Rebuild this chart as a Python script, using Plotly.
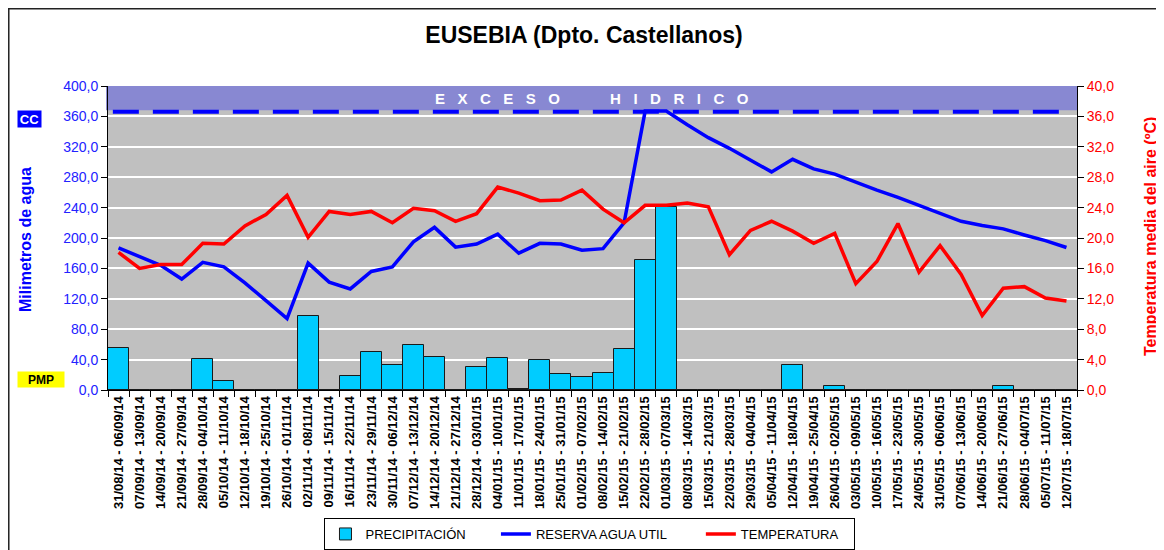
import plotly.graph_objects as go

categories = [
    "31/08/14 - 06/09/14", "07/09/14 - 13/09/14", "14/09/14 - 20/09/14", "21/09/14 - 27/09/14",
    "28/09/14 - 04/10/14", "05/10/14 - 11/10/14", "12/10/14 - 18/10/14", "19/10/14 - 25/10/14",
    "26/10/14 - 01/11/14", "02/11/14 - 08/11/14", "09/11/14 - 15/11/14", "16/11/14 - 22/11/14",
    "23/11/14 - 29/11/14", "30/11/14 - 06/12/14", "07/12/14 - 13/12/14", "14/12/14 - 20/12/14",
    "21/12/14 - 27/12/14", "28/12/14 - 03/01/15", "04/01/15 - 10/01/15", "11/01/15 - 17/01/15",
    "18/01/15 - 24/01/15", "25/01/15 - 31/01/15", "01/02/15 - 07/02/15", "08/02/15 - 14/02/15",
    "15/02/15 - 21/02/15", "22/02/15 - 28/02/15", "01/03/15 - 07/03/15", "08/03/15 - 14/03/15",
    "15/03/15 - 21/03/15", "22/03/15 - 28/03/15", "29/03/15 - 04/04/15", "05/04/15 - 11/04/15",
    "12/04/15 - 18/04/15", "19/04/15 - 25/04/15", "26/04/15 - 02/05/15", "03/05/15 - 09/05/15",
    "10/05/15 - 16/05/15", "17/05/15 - 23/05/15", "24/05/15 - 30/05/15", "31/05/15 - 06/06/15",
    "07/06/15 - 13/06/15", "14/06/15 - 20/06/15", "21/06/15 - 27/06/15", "28/06/15 - 04/07/15",
    "05/07/15 - 11/07/15", "12/07/15 - 18/07/15",
]

precipitacion = [
    55, 0.6, 0, 0, 41, 12.5, 0, 0, 0, 97, 0, 19, 49.5, 33, 59, 44,
    0, 30.5, 41.5, 0.8, 39, 20.5, 16.5, 23, 54, 171, 241, 0, 0, 0, 0, 0,
    33, 0, 5, 0, 0, 0, 0, 0, 0, 0, 5, 0, 0, 0,
]

reserva = [
    187, 176, 164, 146, 168, 162, 141, 117.5, 94, 167, 142, 133, 156, 162, 195, 214,
    188, 192, 205, 180, 193, 192, 184, 186, 220, 367, 367, 349, 332, 318, 303, 287,
    303.5, 291, 284, 273, 263, 253.5, 243, 231.5, 222, 216.5, 212, 204, 196.5, 187.5,
]

temperatura = [
    18.1, 16.0, 16.5, 16.5, 19.3, 19.2, 21.6, 23.1, 25.6, 20.1, 23.5, 23.1, 23.5, 22.0, 23.9, 23.6,
    22.2, 23.2, 26.7, 25.9, 24.9, 25.0, 26.3, 23.8, 22.0, 24.3, 24.3, 24.6, 24.1, 17.8, 21.0, 22.2,
    20.9, 19.3, 20.6, 14.0, 16.9, 21.9, 15.5, 19.0, 15.2, 9.8, 13.4, 13.6, 12.1, 11.7,
]

legend_names = ["PRECIPITACIÓN", "RESERVA AGUA UTIL", "TEMPERATURA"]

capacidad_campo = 366
exceso_inicio = 368
y_max = 400

FONT = "Arial, Liberation Sans, sans-serif"
BLUE = "#0000FF"
RED = "#FF0000"
nb = "\u00a0"

fig = go.Figure()
fig.add_trace(go.Bar(
    x=categories, y=precipitacion, name=legend_names[0] + nb * 7,
    marker=dict(color="#00CCFF", line=dict(color="#1a1a1a", width=1)),
))
fig.add_trace(go.Scatter(
    x=categories, y=reserva, name=legend_names[1] + nb * 8, mode="lines",
    line=dict(color=BLUE, width=3.5),
))
fig.add_trace(go.Scatter(
    x=categories, y=temperatura, name=legend_names[2] + nb * 3, mode="lines",
    line=dict(color=RED, width=3.5), yaxis="y2",
))

# Exceso hídrico band and CC dashed line
fig.add_shape(type="rect", xref="paper", yref="y", x0=-0.002, x1=1, y0=exceso_inicio, y1=y_max,
              fillcolor="#8888D2", line=dict(width=0), layer="between")
fig.add_shape(type="line", xref="paper", yref="y", x0=0.005, x1=0.995,
              y0=capacidad_campo, y1=capacidad_campo,
              line=dict(color=BLUE, width=4, dash="26px,14px"), layer="between")

# outer frame
fig.add_shape(type="rect", xref="paper", yref="paper", x0=-0.1024, x1=1.0877, y0=-0.6, y1=1.2541,
              line=dict(color="#222222", width=1.5), fillcolor="rgba(0,0,0,0)", layer="above")

sp = nb * 3
exceso_text = sp.join("EXCESO") + nb * 12 + sp.join("HIDRICO")
fig.add_annotation(text="<b>" + exceso_text + "</b>", xref="paper", yref="y", x=0.4995, y=384,
                   xanchor="center", yanchor="middle",
                   showarrow=False, font=dict(family=FONT, size=15, color="white"))

fig.add_annotation(text="<b>CC</b>", xref="paper", yref="paper", x=(29.5 - 108) / 969, y=(390 - 118.5) / 304,
                   xanchor="center", yanchor="middle",
                   showarrow=False, font=dict(family=FONT, size=13, color="white"),
                   bgcolor=BLUE, width=21, height=14, borderpad=1)
fig.add_annotation(text="<b>PMP</b>", xref="paper", yref="paper", x=(41 - 108) / 969, y=(390 - 379.5) / 304,
                   xanchor="center", yanchor="middle",
                   showarrow=False, font=dict(family=FONT, size=12, color="black"),
                   bgcolor="#FFFF00", width=44, height=13, borderpad=1)

fig.add_annotation(text="<b>Milimetros de agua</b>", xref="paper", yref="paper",
                   x=(25 - 108) / 969, y=(390 - 240) / 304, textangle=-90, showarrow=False,
                   xanchor="center", yanchor="middle",
                   font=dict(family=FONT, size=16, color=BLUE))
fig.add_annotation(text="<b>Temperatura media del aire (ºC)</b>", xref="paper", yref="paper",
                   x=(1150 - 108) / 969, y=(390 - 237) / 304, textangle=-90, showarrow=False,
                   xanchor="center", yanchor="middle",
                   font=dict(family=FONT, size=16, color=RED))

fig.update_layout(
    width=1156, height=542,
    margin=dict(l=100, r=87, t=78, b=160, autoexpand=False),
    paper_bgcolor="white", plot_bgcolor="#C0C0C0",
    separators=",.",
    bargap=0,
    title=dict(text="<b>EUSEBIA (Dpto. Castellanos)</b>", x=576 / 1156, xanchor="center",
               y=1 - 27 / 542, yanchor="middle", font=dict(family=FONT, size=23, color="black")),
    font=dict(family=FONT),
    showlegend=True,
    legend=dict(orientation="h", x=0.4974, xanchor="center", y=(390 - 550) / 304, yanchor="bottom",
                bordercolor="black", borderwidth=1, bgcolor="white",
                font=dict(family=FONT, size=13, color="black"), traceorder="normal"),
    xaxis=dict(type="category", tickangle=-90, tickfont=dict(family=FONT, size=13, color="black", weight="bold"),
               showline=True, linecolor="black", linewidth=1, ticks="outside", ticklen=6,
               tickcolor="black", tickson="boundaries", showgrid=False, range=[-0.5, len(categories) - 0.5]),
    yaxis=dict(range=[0, y_max], dtick=40, tickformat=".1f", tickfont=dict(family=FONT, size=14, color="#2222FF"),
               showline=True, linecolor="black", linewidth=1, ticks="outside", ticklen=6, tickcolor="black",
               gridcolor="white", gridwidth=1.5, zeroline=False),
    yaxis2=dict(range=[0, 40], dtick=4, tickformat=".1f", overlaying="y", side="right",
                tickfont=dict(family=FONT, size=14, color=RED), showline=True, linecolor="black",
                linewidth=1, ticks="outside", ticklen=6, tickcolor="black", showgrid=False, zeroline=False),
)

fig.write_html("out.html")
